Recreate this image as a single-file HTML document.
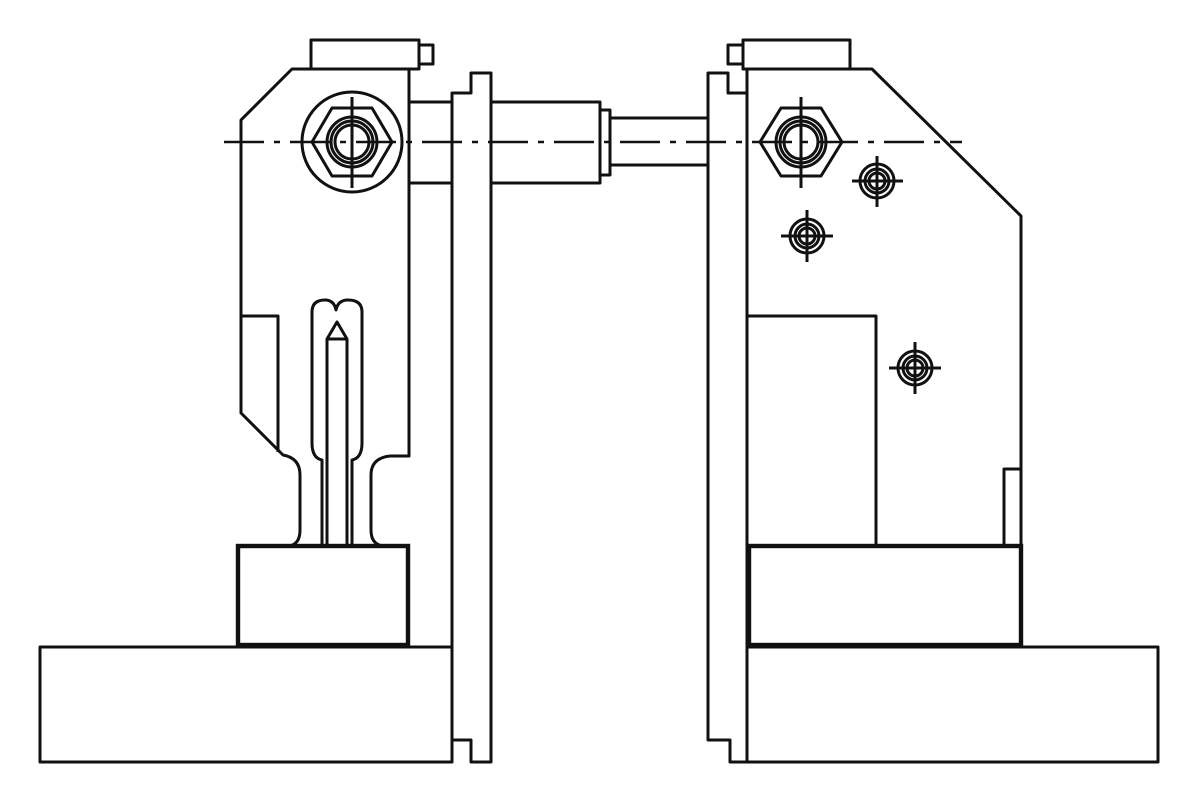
<!DOCTYPE html>
<html><head><style>html,body{margin:0;padding:0;background:#fff}svg{display:block}</style></head>
<body>
<svg width="1200" height="803" viewBox="0 0 1200 803" xmlns="http://www.w3.org/2000/svg">
<g fill="none" stroke="#111" stroke-width="3" stroke-linejoin="round">
<!-- LEFT -->
<rect x="311" y="40" width="108" height="29"/>
<rect x="419" y="45" width="14" height="19"/>
<path d="M409,69 L292,69 L241,120 L241,413 L283,455 Q300,458 300,475 L300,530 Q300,545 288,546"/>
<path d="M409,69 L409,456 L390,456 Q371,458 371,475 L371,530 Q371,545 384,546"/>
<path d="M241,316 L278,316 L278,452"/>
<path d="M322,546 L322,460 Q312,458 312,443 L312,312 Q312,300 325,300 Q334,300 336,310 Q338,300 348,300 Q362,300 362,312 L362,443 Q362,458 352,460 L352,546"/>
<path d="M327,546 L327,339 L337,322 L347,339 L347,546 M327,339 L347,339"/>
<circle cx="352" cy="142" r="50"/>
<path d="M312,142 L332,108 L372,108 L392,142 L372,176 L332,176 Z"/>
<circle cx="352" cy="142" r="25"/>
<circle cx="352" cy="142" r="21"/>
<circle cx="352" cy="142" r="17"/>
<line x1="352" y1="97" x2="352" y2="188"/>
<rect x="409" y="102" width="43" height="81"/>
<path d="M452,740 L452,93 L471,93 L471,73 L491,73 L491,762 L471,762 L471,740 Z"/>
<rect x="491" y="102" width="109" height="81"/>
<rect x="600" y="110" width="10" height="65"/>
<path d="M610,118 L708,118 M610,165 L708,165"/>
<rect x="40" y="647" width="412" height="115"/>
<!-- RIGHT -->
<rect x="743" y="40" width="107" height="29"/>
<rect x="728" y="45" width="15" height="19"/>
<path d="M747,762 L730,762 L730,740 L708,740 L708,73 L728,73 L728,93 L747,93"/>
<path d="M747,69 L872,69 L1021,216 L1021,546"/>
<line x1="747" y1="69" x2="747" y2="762"/>
<path d="M760,142 L781,108 L821,108 L842,142 L821,176 L781,176 Z"/>
<circle cx="801" cy="142" r="25"/>
<circle cx="801" cy="142" r="21"/>
<circle cx="801" cy="142" r="17"/>
<line x1="801" y1="97" x2="801" y2="188"/>
<path d="M747,316 L876,316 L876,546"/>
<path d="M1004,546 L1004,469 L1021,469"/>
<rect x="747" y="647" width="411" height="115"/>
<circle cx="877" cy="181" r="17"/><circle cx="877" cy="181" r="12"/><circle cx="877" cy="181" r="8"/>
<path d="M852,181 L903,181 M877,156 L877,207"/>
<circle cx="807" cy="236" r="17"/><circle cx="807" cy="236" r="12"/><circle cx="807" cy="236" r="8"/>
<path d="M781,236 L833,236 M807,210 L807,262"/>
<circle cx="915" cy="368" r="17"/><circle cx="915" cy="368" r="12"/><circle cx="915" cy="368" r="8"/>
<path d="M889,368 L941,368 M915,342 L915,394"/>
</g>
<g fill="none" stroke="#111" stroke-width="4.4">
<rect x="238" y="546" width="170" height="99"/>
<rect x="749" y="546" width="272" height="99"/>
</g>
<line x1="224" y1="142" x2="962" y2="142" stroke="#111" stroke-width="2.6" stroke-dasharray="40,10,6,10"/>
</svg>
</body></html>
